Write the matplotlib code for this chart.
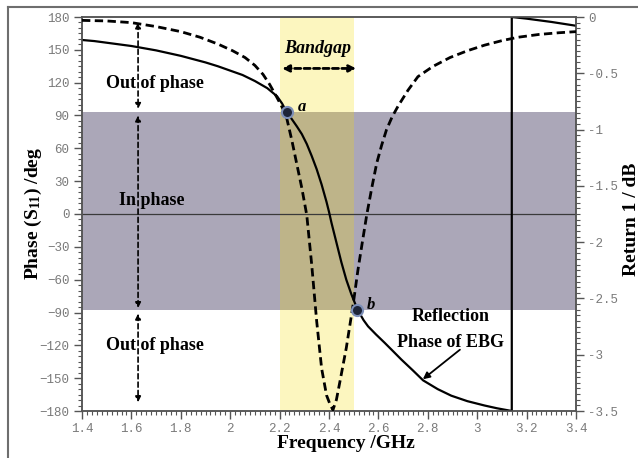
import numpy as np
import matplotlib
matplotlib.use("Agg")
import matplotlib.pyplot as plt
from matplotlib.ticker import MultipleLocator, FixedLocator, FixedFormatter
from matplotlib.lines import Line2D

# Reflection phase of the EBG surface (deg); wraps from -180 to +180 near 3.14 GHz
freq_phase = [1.40, 1.45, 1.50, 1.55, 1.60, 1.65, 1.70, 1.75, 1.80, 1.85,
              1.90, 1.95, 2.00, 2.05, 2.10, 2.15, 2.19, 2.21, 2.229, 2.25,
              2.27, 2.29, 2.31, 2.33, 2.35, 2.37, 2.39, 2.40, 2.41, 2.43,
              2.45, 2.47, 2.49, 2.505, 2.517, 2.54, 2.558, 2.59, 2.625, 2.66,
              2.693, 2.74, 2.781, 2.84, 2.895, 2.96, 3.03, 3.08, 3.14, 3.14,
              3.20, 3.30, 3.40]
phase_deg = [159, 158, 156.5, 155, 153.5, 151.5, 149.5, 147, 144.5, 141.5,
             138.5, 135, 131, 127, 121.5, 115, 107.5, 101, 93, 86.5,
             80, 73, 64, 53, 41, 27, 11, 2, -8, -26,
             -44, -60, -73, -81.5, -88, -97, -102.6, -110, -117.6, -125.5,
             -133, -143, -152, -160, -166, -171, -175, -177.5, -180, 180,
             178.5, 175.5, 172]

# Return loss (dB)
freq_rl = [1.40, 1.50, 1.60, 1.70, 1.80, 1.878, 1.95, 2.01, 2.06, 2.10,
           2.133, 2.16, 2.188, 2.21, 2.229, 2.25, 2.269, 2.29, 2.31, 2.33,
           2.35, 2.37, 2.39, 2.404, 2.416, 2.43, 2.445, 2.47, 2.498, 2.517,
           2.535, 2.553, 2.573, 2.593, 2.613, 2.633, 2.655, 2.68, 2.72, 2.76,
           2.82, 2.89, 2.96, 3.03, 3.10, 3.165, 3.25, 3.33, 3.40]
return_db = [-0.03, -0.035, -0.05, -0.085, -0.13, -0.18, -0.24, -0.30, -0.36, -0.43,
             -0.51, -0.60, -0.71, -0.80, -0.90, -1.10, -1.30, -1.52, -1.76, -2.20,
             -2.70, -3.12, -3.36, -3.44, -3.49, -3.40, -3.23, -2.94, -2.55, -2.25,
             -2.00, -1.755, -1.52, -1.30, -1.14, -1.00, -0.89, -0.79, -0.65, -0.53,
             -0.44, -0.36, -0.30, -0.25, -0.21, -0.18, -0.155, -0.14, -0.13]

# Reference levels
band_low, band_high = -88, 93          # in-phase region (deg)
gap_start, gap_end = 2.2, 2.5          # bandgap (GHz)
point_a = (2.229, 93)
point_b = (2.515, -88)

x_ticks = [1.4, 1.6, 1.8, 2.0, 2.2, 2.4, 2.6, 2.8, 3.0, 3.2, 3.4]
x_ticklabels = ["1.4", "1.6", "1.8", "2", "2.2", "2.4", "2.6", "2.8", "3", "3.2", "3.4"]
y_ticks = [-180, -150, -120, -90, -60, -30, 0, 30, 60, 90, 120, 150, 180]
r_ticks = [0, -0.5, -1, -1.5, -2, -2.5, -3, -3.5]
r_ticklabels = ["0", "-0.5", "-1", "-1.5", "-2", "-2.5", "-3", "-3.5"]

plt.rcParams["mathtext.fontset"] = "custom"
plt.rcParams["mathtext.rm"] = "Liberation Serif:bold"
plt.rcParams["mathtext.bf"] = "Liberation Serif:bold"
plt.rcParams["mathtext.it"] = "Liberation Serif:bold"

W, H = 638, 458
fig = plt.figure(figsize=(W / 100, H / 100), dpi=100)
ax = fig.add_axes([82 / W, 1 - 411 / H, (576 - 82) / W, (411 - 17) / H])

serif = "Liberation Serif"
mono = "Liberation Mono"
tick_grey = "#7a7a7a"
spine_grey = "#555555"

# background regions
ax.axhspan(band_low, band_high, color="#aba7b8", zorder=0, lw=0)
ax.axvspan(gap_start, gap_end, color=(247 / 255, 222 / 255, 0), alpha=0.25, zorder=0.5, lw=0)
ax.axhline(0, color="#3a3a3a", lw=0.9, zorder=1)

# phase curve
ax.plot(freq_phase, phase_deg, color="black", lw=1.6, zorder=4,
        solid_joinstyle="round")

ax.set_xlim(1.4, 3.4)
ax.set_ylim(-180, 180)

ax.xaxis.set_major_locator(FixedLocator(x_ticks))
ax.xaxis.set_major_formatter(FixedFormatter(x_ticklabels))
ax.xaxis.set_minor_locator(MultipleLocator(0.02))
ax.yaxis.set_major_locator(FixedLocator(y_ticks))
ax.yaxis.set_minor_locator(MultipleLocator(5))

for lab in ax.get_xticklabels() + ax.get_yticklabels():
    lab.set_fontfamily(mono)
    lab.set_fontsize(9)
    lab.set_color(tick_grey)
ax.tick_params(which="major", direction="out", length=6, width=1, color=spine_grey, pad=3)
ax.tick_params(which="minor", direction="out", length=3, width=0.8, color=spine_grey)
for s in ax.spines.values():
    s.set_color(spine_grey)
    s.set_linewidth(1.1)

# return-loss axis
ax2 = ax.twinx()
ax2.plot(freq_rl, return_db, color="black", lw=2.0, dashes=(3, 1.6), zorder=5)
ax2.set_ylim(-3.5, 0)
ax2.yaxis.set_major_locator(FixedLocator(r_ticks))
ax2.yaxis.set_major_formatter(FixedFormatter(r_ticklabels))
ax2.yaxis.set_minor_locator(MultipleLocator(0.05))
for lab in ax2.get_yticklabels():
    lab.set_fontfamily(mono)
    lab.set_fontsize(9)
    lab.set_color(tick_grey)
ax2.tick_params(which="major", direction="out", length=6, width=1, color=spine_grey, pad=3)
ax2.tick_params(which="minor", direction="out", length=3, width=0.8, color=spine_grey)
for s in ax2.spines.values():
    s.set_color(spine_grey)
    s.set_linewidth(1.1)

# marked crossing points a and b (drawn above the dashed curve)
for (px, py), name, (tx, ty) in [(point_a, "a", (2.29, 97.5)), (point_b, "b", (2.57, -83))]:
    ax2.plot(px, (py - 180) / 360 * 3.5, "o", ms=8, mfc="#1e2538", mec="#7d8fb8",
             mew=1.5, zorder=6)
    ax2.text(tx, (ty - 180) / 360 * 3.5, name, fontfamily=serif, fontstyle="italic",
             fontweight="bold", fontsize=12, ha="center", va="center", zorder=7)

# annotations
txt = dict(fontfamily=serif, fontweight="bold", fontsize=13, ha="center", va="center", zorder=7)
ax.text(1.695, 119.5, "Out of phase", **txt)
ax.text(1.683, 12, "In phase", **txt)
ax.text(1.695, -120, "Out of phase", **txt)
ax.text(2.355, 151, "Bandgap", fontfamily=serif, fontweight="bold", fontstyle="italic",
        fontsize=13, ha="center", va="center", zorder=7)
ax.text(2.893, -94, "Reflection", **txt)
ax.text(2.893, -117, "Phase of EBG", **txt)


def dashed_arrow(x0, y0, x1, y1, lw=1.4, dashes=(3, 2), head=8):
    ax.annotate("", xy=(x1, y1), xytext=(x0, y0),
                arrowprops=dict(arrowstyle="<|-|>", color="black", lw=lw,
                                linestyle=(0, dashes), mutation_scale=head,
                                shrinkA=0, shrinkB=0), zorder=6)


x_arr = 1.627
dashed_arrow(x_arr, 175, x_arr, 96, lw=1.2, dashes=(3, 2))
dashed_arrow(x_arr, 90, x_arr, -86, lw=1.2, dashes=(3, 2))
dashed_arrow(x_arr, -91, x_arr, -172, lw=1.2, dashes=(3, 2))
dashed_arrow(2.21, 133, 2.51, 133, lw=2.0, dashes=(2.2, 1.2), head=10)

ax.annotate("", xy=(2.78, -151), xytext=(2.93, -124),
            arrowprops=dict(arrowstyle="-|>", color="black", lw=1.3,
                            mutation_scale=10, shrinkA=0, shrinkB=0), zorder=6)

# axis titles
fig.text(346 / W, 1 - 443 / H, "Frequency /GHz", fontfamily=serif, fontweight="bold",
         fontsize=14, ha="center", va="center")
fig.text(33 / W, 1 - 213 / H, "Phase (S$_{11}$) /deg", rotation=90, fontfamily=serif,
         fontweight="bold", fontsize=14, ha="center", va="center")
fig.text(631 / W, 1 - 219 / H, "Return 1 / dB", rotation=90, fontfamily=serif,
         fontweight="bold", fontsize=14, ha="center", va="center")

# outer frame
fig.add_artist(Line2D([8 / W, 1], [1 - 7 / H, 1 - 7 / H], transform=fig.transFigure,
                      color="#6e6e6e", lw=1.5))
fig.add_artist(Line2D([8 / W, 8 / W], [0, 1 - 7 / H], transform=fig.transFigure,
                      color="#6e6e6e", lw=1.5))

fig.savefig("out.png", dpi=100)
